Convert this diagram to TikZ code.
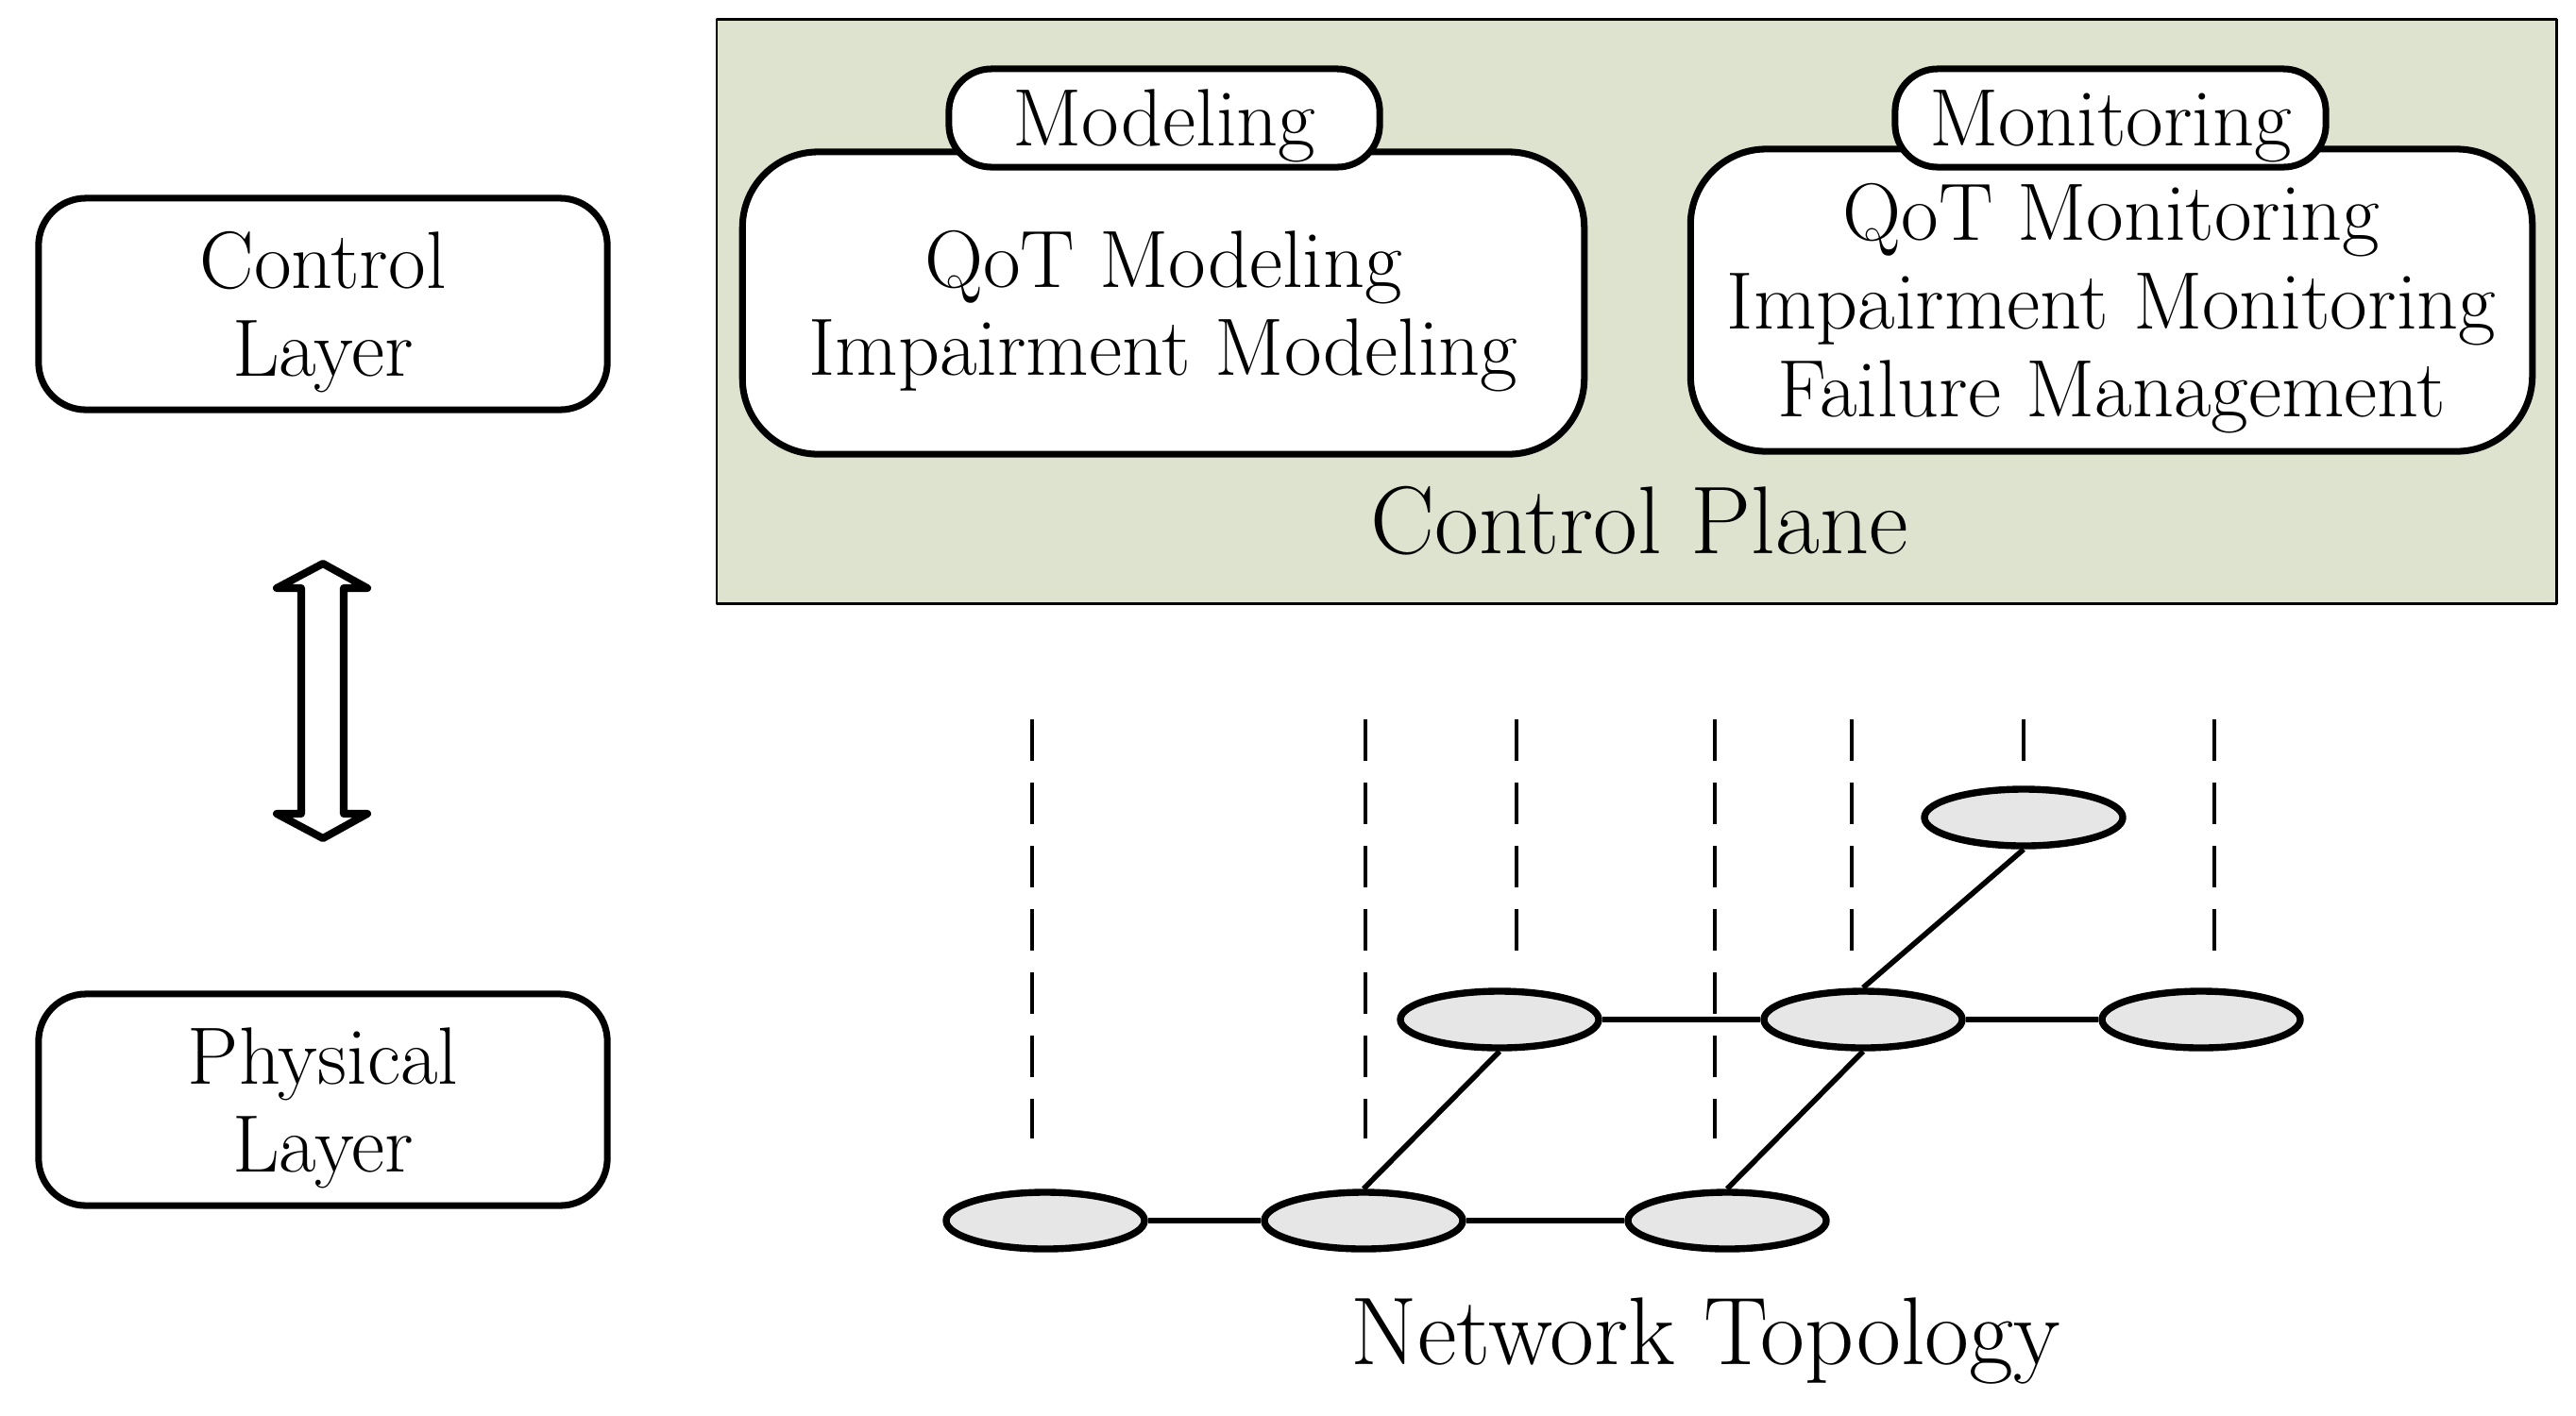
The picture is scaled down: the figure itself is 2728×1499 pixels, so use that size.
\documentclass[tikz,border=0pt]{standalone}
\usetikzlibrary{shapes.geometric,positioning}

\definecolor{planegreen}{RGB}{221,227,206}
\definecolor{nodegray}{RGB}{230,230,230}

\begin{document}
\begin{tikzpicture}[x=0.01cm,y=-0.01cm,line join=round,
    txt/.style={font=\fontsize{24.5}{26.5}\selectfont,text depth=0pt},
    big/.style={font=\fontsize{29}{33}\selectfont},
    layer/.style={txt,draw,line width=2pt,rounded corners=0.5cm,align=center,
        minimum width=6.02cm,minimum height=2.24cm,inner sep=2pt},
    plane/.style={draw,line width=0.8pt,fill=planegreen,
        minimum width=19.47cm,minimum height=6.18cm},
    task/.style={txt,draw,fill=white,line width=2pt,rounded corners=0.8cm,align=center,
        minimum width=8.91cm,minimum height=3.2cm,inner sep=2pt},
    tab/.style={txt,draw,fill=white,line width=2pt,rounded corners=0.45cm,
        minimum width=4.56cm,minimum height=1.04cm,inner sep=0pt},
    site/.style={ellipse,draw,fill=nodegray,line width=2.1pt,inner sep=0pt,
        minimum width=2.1cm,minimum height=0.6cm},
    link/.style={line width=1.6pt},
    drop/.style={line width=1.1pt,dash pattern=on 0.44cm off 0.23cm}]
    \useasboundingbox (0,0) rectangle (2728,1499);
    % Layers
    \node[layer] (ctrl) at (342,322) {Control\\Layer};
    \node[layer] (phys) at (342,1165) {Physical\\Layer};
    \draw[line width=2.3pt,fill=white] (342,597) -- (389,623) -- (364,623) -- (364,862)
        -- (389,862) -- (342,888) -- (293,862) -- (319,862) -- (319,623) -- (293,623) -- cycle;
    % Control plane
    \node[plane] (cp) at (1733,330) {};
    \node[task] (model) at (1232,321) {QoT Modeling\\Impairment Modeling};
    \node[task] (monit) at (2236,318) {QoT Monitoring\\Impairment Monitoring\\Failure Management};
    \node[tab] (modtab) at (1233,125) {Modeling};
    \node[tab] (montab) at (2235,125) {Monitoring};
    \node[big] (cplabel) at (1736,552) {Control Plane};
    % Drop lines
    \foreach \x/\e in {1093/1206,1446/1206,1606/1007,1816/1206,1961/1007,2143/806,2345/1007}
        \draw[drop] (\x,762) -- (\x,\e);
    % Topology
    \node[site] (b1) at (1107,1293) {};
    \node[site] (b2) at (1444,1293) {};
    \node[site] (b3) at (1829,1293) {};
    \node[site] (m1) at (1588,1080) {};
    \node[site] (m2) at (1973,1080) {};
    \node[site] (m3) at (2331,1080) {};
    \node[site] (t1) at (2143,866) {};
    \draw[link] (b1) -- (b2);
    \draw[link] (b2) -- (b3);
    \draw[link] (m1) -- (m2);
    \draw[link] (m2) -- (m3);
    \draw[link] (b2.north) -- (m1.south);
    \draw[link] (b3.north) -- (m2.south);
    \draw[link] (m2.north) -- (t1.south);
    \node[big] (toplabel) at (1806,1420) {Network Topology};
\end{tikzpicture}
\end{document}
